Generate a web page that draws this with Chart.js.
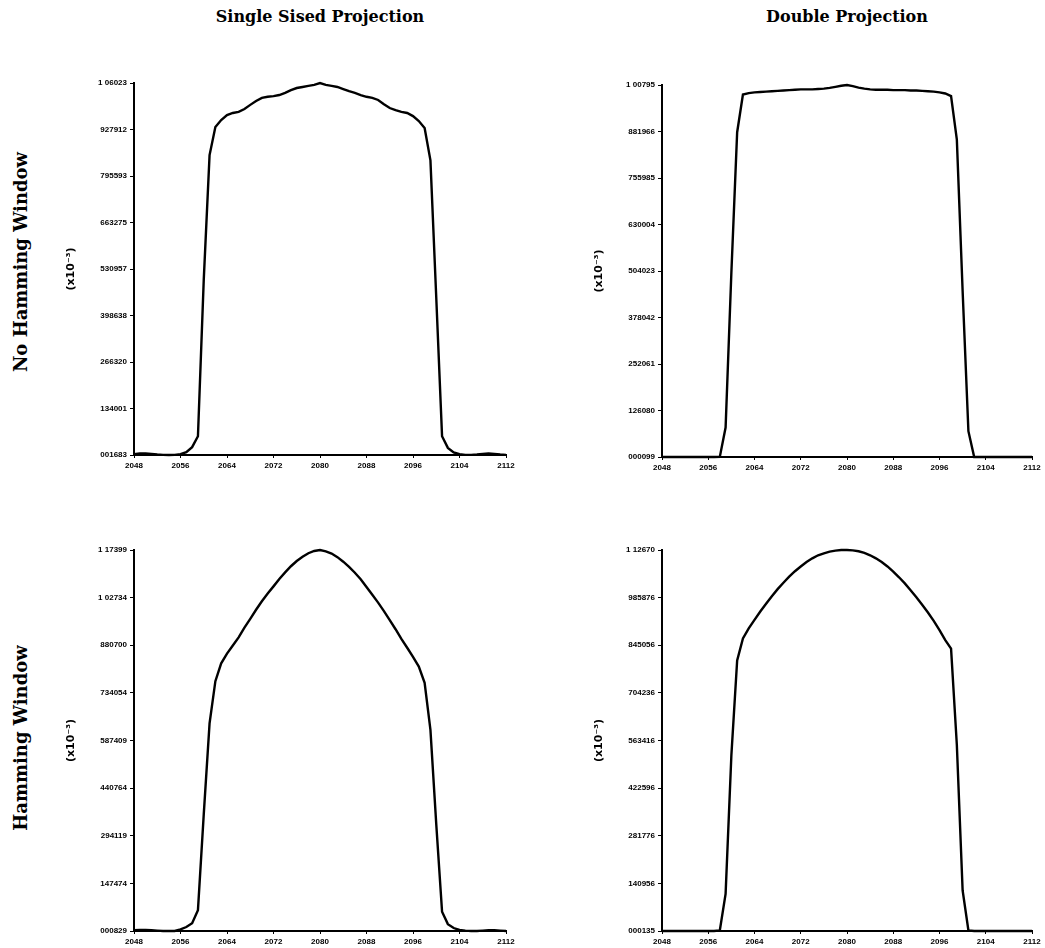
<!DOCTYPE html>
<html>
<head>
<meta charset="utf-8">
<script src="https://cdn.jsdelivr.net/npm/chart.js@4/dist/chart.umd.min.js"></script>
<style>
  html, body { margin: 0; padding: 0; background: #fff; overflow: hidden; }
  body { width: 1045px; height: 948px; position: relative; }
  canvas { position: absolute; }
  .colTitle { position: absolute; font: bold 16px "DejaVu Serif", serif; color: #000; transform: translate(-50%, -50%); white-space: nowrap; }
  .rowTitle { position: absolute; font: bold 18px "DejaVu Serif", serif; color: #000; transform: translate(-50%, -50%) rotate(-90deg); white-space: nowrap; }
</style>
</head>
<body>
<div class="colTitle" style="left:320px; top:16px;">Single Sised Projection</div>
<div class="colTitle" style="left:847px; top:16px;">Double Projection</div>
<div class="rowTitle" style="left:20px; top:262px;">No Hamming Window</div>
<div class="rowTitle" style="left:20px; top:738px;">Hamming Window</div>

<script>
// sample positions along the projection (same for all four plots)
const samplePos = [2048, 2049, 2050, 2051, 2052, 2053, 2054, 2055, 2056, 2057, 2058, 2059, 2060,
    2061, 2062, 2063, 2064, 2065, 2066, 2067, 2068, 2069, 2070, 2071, 2072, 2073, 2074, 2075, 2076,
    2077, 2078, 2079, 2080, 2081, 2082, 2083, 2084, 2085, 2086, 2087, 2088, 2089, 2090, 2091, 2092,
    2093, 2094, 2095, 2096, 2097, 2098, 2099, 2100, 2101, 2102, 2103, 2104, 2105, 2106, 2107, 2108,
    2109, 2110, 2111, 2112];

const xTickLabels = ['2048', '2056', '2064', '2072', '2080', '2088', '2096', '2104', '2112'];

// single sised projection, no hamming window
const singleNoHamming = [0.004, 0.006, 0.006, 0.005, 0.003, 0.002, 0.001683, 0.002, 0.004, 0.010, 0.024, 0.055, 0.50,
    0.855, 0.935, 0.955, 0.969, 0.975, 0.978, 0.986, 0.998, 1.009, 1.018, 1.021, 1.023, 1.026, 1.032, 1.040, 1.046,
    1.049, 1.052, 1.055, 1.06023, 1.055, 1.052, 1.049, 1.043, 1.037, 1.032, 1.026, 1.021, 1.018, 1.012, 1.000, 0.989,
    0.983, 0.978, 0.975, 0.966, 0.952, 0.932, 0.84, 0.45, 0.055, 0.022, 0.009, 0.004, 0.002, 0.002, 0.003, 0.005,
    0.006, 0.005, 0.003, 0.002];
const singleNoHammingRange = [0.001683, 1.06023];
const singleNoHammingTicks = ['001683', '134001', '266320', '398638', '530957', '663275', '795593', '927912', '1 06023'];

// double projection, no hamming window
const doubleNoHamming = [0.0001, 0.0001, 0.0001, 0.0001, 0.000099, 0.0001, 0.0001, 0.0001, 0.0001, 0.0001, 0.0003, 0.08, 0.50,
    0.88, 0.982, 0.986, 0.988, 0.989, 0.990, 0.991, 0.992, 0.993, 0.994, 0.995, 0.996, 0.996, 0.996, 0.997, 0.998,
    1.000, 1.003, 1.006, 1.007947, 1.005, 1.001, 0.998, 0.996, 0.995, 0.995, 0.995, 0.994, 0.994, 0.994, 0.993, 0.993,
    0.992, 0.991, 0.990, 0.988, 0.985, 0.978, 0.86, 0.45, 0.07, 0.0002, 0.0001, 0.0001, 0.0001, 0.0001, 0.0001, 0.0001,
    0.0001, 0.0001, 0.0001, 0.0001];
const doubleNoHammingRange = [0.000099, 1.007947];
const doubleNoHammingTicks = ['000099', '126080', '252061', '378042', '504023', '630004', '755985', '881966', '1 00795'];

// single sised projection, hamming window
const singleHamming = [0.003, 0.004, 0.004, 0.003, 0.002, 0.001, 0.000829, 0.001, 0.006, 0.013, 0.025, 0.065, 0.36,
    0.64, 0.77, 0.825, 0.855, 0.880, 0.905, 0.935, 0.962, 0.990, 1.016, 1.040, 1.062, 1.085, 1.105, 1.124, 1.140,
    1.153, 1.164, 1.171, 1.17399, 1.170, 1.163, 1.152, 1.138, 1.122, 1.104, 1.084, 1.060, 1.036, 1.012, 0.986, 0.958,
    0.930, 0.900, 0.873, 0.845, 0.815, 0.765, 0.62, 0.33, 0.06, 0.022, 0.010, 0.004, 0.002, 0.001, 0.001, 0.002,
    0.003, 0.003, 0.002, 0.001];
const singleHammingRange = [0.000829, 1.17399];
const singleHammingTicks = ['000829', '147474', '294119', '440764', '587409', '734054', '880700', '1 02734', '1 17399'];

// double projection, hamming window
const doubleHamming = [0.0002, 0.0002, 0.000135, 0.0002, 0.0002, 0.0002, 0.0002, 0.0002, 0.0002, 0.0002, 0.002, 0.11, 0.52,
    0.80, 0.865, 0.895, 0.920, 0.945, 0.968, 0.990, 1.011, 1.030, 1.048, 1.064, 1.078, 1.091, 1.102, 1.111, 1.117,
    1.122, 1.125, 1.1265, 1.12670, 1.1255, 1.123, 1.118, 1.111, 1.102, 1.091, 1.078, 1.063, 1.046, 1.028, 1.008, 0.987,
    0.965, 0.942, 0.917, 0.890, 0.860, 0.835, 0.55, 0.12, 0.002, 0.0002, 0.0002, 0.0002, 0.0002, 0.0002, 0.0002, 0.0002,
    0.0002, 0.0002, 0.0002, 0.0002];
const doubleHammingRange = [0.000135, 1.12670];
const doubleHammingTicks = ['000135', '140956', '281776', '422596', '563416', '704236', '845056', '985876', '1 12670'];

const Y_AXIS_W = 74;   // room left of the plot for tick labels + (x10-3)
const X_AXIS_H = 22;
const PAD_TOP = 10;

const panels = [
    { values: singleNoHamming, range: singleNoHammingRange, ticks: singleNoHammingTicks, area: [134, 83, 506, 455], padRight: 24 },
    { values: doubleNoHamming, range: doubleNoHammingRange, ticks: doubleNoHammingTicks, area: [662, 85, 1032, 457], padRight: 12 },
    { values: singleHamming, range: singleHammingRange, ticks: singleHammingTicks, area: [134, 550, 506, 931], padRight: 24 },
    { values: doubleHamming, range: doubleHammingRange, ticks: doubleHammingTicks, area: [662, 550, 1032, 931], padRight: 12 }
];

const tickFont = { family: '"Liberation Sans", Arial, sans-serif', size: 8, weight: 'bold' };

function renderPanel(panel) {
    const [left, top, right, bottom] = panel.area;
    const canvas = document.createElement('canvas');
    canvas.width = (right - left) + Y_AXIS_W + panel.padRight;
    canvas.height = (bottom - top) + PAD_TOP + X_AXIS_H;
    canvas.style.left = (left - Y_AXIS_W) + 'px';
    canvas.style.top = (top - PAD_TOP) + 'px';
    document.body.appendChild(canvas);

    const [yMin, yMax] = panel.range;
    const points = samplePos.map((x, i) => ({ x: x, y: panel.values[i] }));

    new Chart(canvas, {
        type: 'line',
        data: {
            datasets: [{
                data: points,
                borderColor: '#000',
                borderWidth: 2.4,
                pointRadius: 0,
                tension: 0,
                fill: false,
                clip: false
            }]
        },
        options: {
            responsive: false,
            animation: false,
            devicePixelRatio: 1,
            layout: { padding: { top: PAD_TOP, right: panel.padRight, bottom: 0, left: 0 } },
            plugins: { legend: { display: false }, tooltip: { enabled: false } },
            scales: {
                x: {
                    type: 'linear',
                    min: 2048,
                    max: 2112,
                    afterFit: s => { s.height = X_AXIS_H; },
                    afterBuildTicks: s => { s.ticks = xTickLabels.map(l => ({ value: Number(l) })); },
                    border: { display: true, color: '#000', width: 2 },
                    grid: { drawOnChartArea: false, drawTicks: true, tickLength: 3, color: '#000', lineWidth: 1 },
                    ticks: {
                        callback: (v, i) => xTickLabels[i],
                        font: tickFont, color: '#000', padding: 3,
                        maxRotation: 0, autoSkip: false
                    }
                },
                y: {
                    type: 'linear',
                    min: yMin,
                    max: yMax,
                    afterFit: s => { s.width = Y_AXIS_W; },
                    afterBuildTicks: s => {
                        s.ticks = panel.ticks.map((l, i) => ({ value: yMin + i * (yMax - yMin) / (panel.ticks.length - 1) }));
                    },
                    border: { display: true, color: '#000', width: 2 },
                    grid: { drawOnChartArea: false, drawTicks: true, tickLength: 4, color: '#000', lineWidth: 1 },
                    ticks: {
                        callback: (v, i) => panel.ticks[i],
                        font: tickFont, color: '#000', padding: 3, autoSkip: false
                    },
                    title: {
                        display: true,
                        text: '(x10\u207B\u00B3)',
                        font: { family: '"DejaVu Sans", sans-serif', size: 11, weight: 'bold' },
                        color: '#000',
                        padding: { top: 5, bottom: 0 }
                    }
                }
            }
        }
    });
}

panels.forEach(p => renderPanel(p));
</script>
</body>
</html>
